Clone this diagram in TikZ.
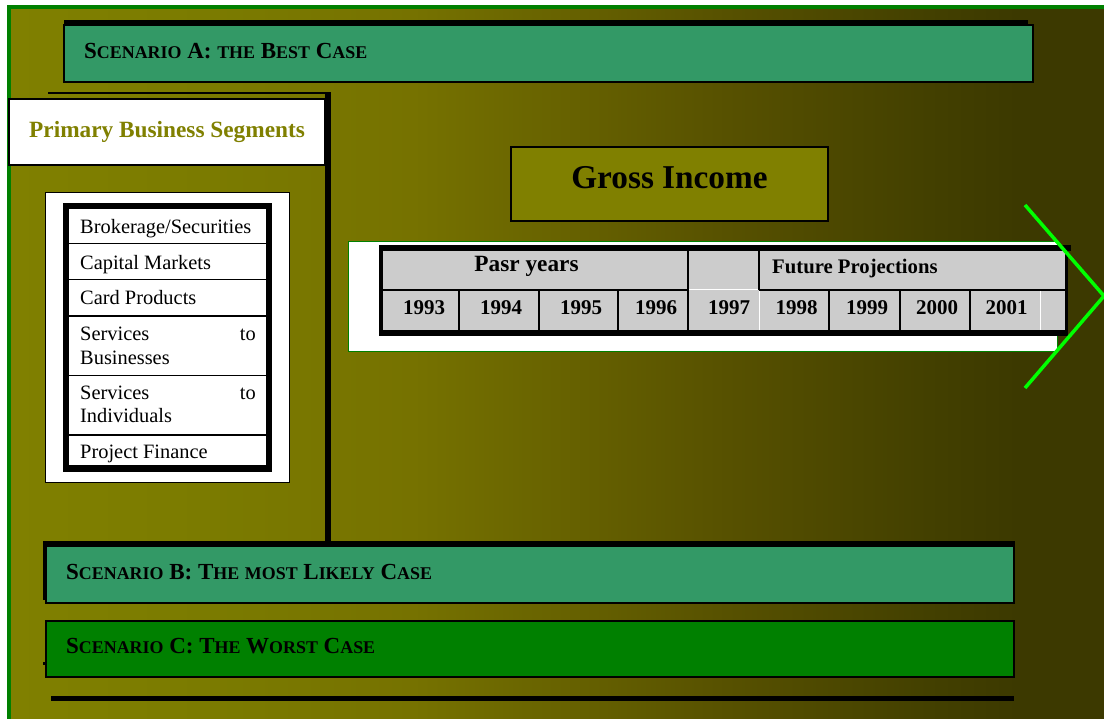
\documentclass[tikz,border=0pt]{standalone}
\usepackage{fontspec}
\setmainfont{Liberation Serif}

% slide colours
\definecolor{bgOlive}{HTML}{808000}
\definecolor{bgMid}{HTML}{767200}
\definecolor{bgDeep}{HTML}{575100}
\definecolor{bgDark}{HTML}{434000}
\definecolor{bgEnd}{HTML}{3C3900}
\definecolor{frameGreen}{HTML}{008000}
\definecolor{scenTeal}{HTML}{339966}
\definecolor{scenGreen}{HTML}{008000}
\definecolor{cellGrey}{HTML}{CCCCCC}
\definecolor{arrowLime}{HTML}{00FF00}

\pgfdeclarehorizontalshading{slidebg}{100bp}{%
  color(0bp)=(bgOlive); color(25bp)=(bgOlive); color(34bp)=(bgOlive!96!black);
  color(43bp)=(bgMid); color(57bp)=(bgDeep); color(66bp)=(bgDark);
  color(70bp)=(bgEnd); color(100bp)=(bgEnd)}

% fake small caps for the scenario titles
\newcommand\smcap[1]{{\fontsize{17.9}{20}\selectfont #1}}

\begin{document}
\begin{tikzpicture}[x=1pt,y=-1pt,
  panel/.style={draw=black, line width=1.5pt},
  solidbar/.style={fill=black, draw=none},
  scentext/.style={inner sep=0pt, anchor=west, font=\fontsize{23}{28}\selectfont\bfseries},
  segtext/.style={inner sep=0pt, anchor=base west, font=\fontsize{20.4}{24}\selectfont},
  yeartext/.style={inner sep=0pt, anchor=base, font=\fontsize{21}{24}\selectfont\bfseries},
  rule/.style={line width=1.7pt},
]
\useasboundingbox (0,0) rectangle (1104,719);
\begin{scope}
\clip (0,0) rectangle (1104,719);

% slide background with its green frame
\fill[white] (0,0) rectangle (1104,719);
\path[shading=slidebg, draw=frameGreen, line width=4pt] (9,7) rectangle (1130,745);

% Scenario A banner
\path[solidbar] (64,20) rectangle (1028,26);
\path[panel, fill=scenTeal] (64,25) rectangle (1033,82);
\node[scentext] (scA) at (84,51) {S\smcap{CENARIO} A: \smcap{THE} B\smcap{EST} C\smcap{ASE}};

% Primary business segments heading with its shadow bar
\path[solidbar] (48,92) rectangle (330,94);
\path[solidbar] (325,92) rectangle (331,542);
\path[panel, fill=white] (9,99) rectangle (325,165);
\node[inner sep=0pt, anchor=base west, text=bgOlive,
      font=\fontsize{23.3}{28}\selectfont\bfseries] (pbs) at (29,138) {Primary Business Segments};

% segment list
\path[draw=black, line width=1pt, fill=white] (45,193) rectangle (289,482);
\path[solidbar] (63,203) rectangle (272,472);
\path[fill=white] (69,209) rectangle (266,465);
\foreach \yy in {243.5,279.5,316,375.5,435}
  \draw[rule] (69,\yy) -- (266,\yy);
\node[segtext] (s1) at (80,234) {Brokerage/Securities};
\node[segtext] (s2) at (80,270) {Capital Markets};
\node[segtext] (s3) at (80,305) {Card Products};
\node[segtext] (s4a) at (80,341) {Services};
\node[segtext, anchor=base east] (s4b) at (256,341) {to};
\node[segtext] (s4c) at (80,365) {Businesses};
\node[segtext] (s5a) at (80,400) {Services};
\node[segtext, anchor=base east] (s5b) at (256,400) {to};
\node[segtext] (s5c) at (80,423) {Individuals};
\node[segtext] (s6) at (80,459) {Project Finance};

% Gross income title
\path[panel, fill=bgOlive] (511,147) rectangle (828,221);
\node[inner sep=0pt, font=\fontsize{33.3}{38}\selectfont\bfseries] (gross) at (669.5,178) {Gross Income};

% year table on its white strip
\path[draw=frameGreen, line width=1pt, fill=white] (348,242) rectangle (1057,352);
\path[fill=cellGrey] (383,251) rectangle (1065,330);
\path[solidbar] (379,245) rectangle (1071,251);
\path[solidbar] (379,245) rectangle (383,336);
\path[solidbar] (379,330) rectangle (1068,336);
\path[solidbar] (1065,251) rectangle (1068,336);
\draw[rule] (383,290) -- (688,290);
\draw[rule] (759,290) -- (1068,290);
\draw[rule, white, line width=1pt] (689,290) -- (759,290);
\draw[rule] (688,251) -- (688,330);
\draw[rule] (759,251) -- (759,290);
\draw[white, line width=1pt] (759,291) -- (759,330);
\foreach \xx in {459,539,618,829,900,970}
  \draw[rule] (\xx,290) -- (\xx,330);
\draw[white, line width=1pt] (1040,291) -- (1040,330);
\node[inner sep=0pt, anchor=base, font=\fontsize{23.3}{28}\selectfont\bfseries] (past) at (526.5,271.5) {Pasr years};
\node[inner sep=0pt, anchor=base west, font=\fontsize{20.7}{24}\selectfont\bfseries] (future) at (772,274) {Future Projections};
\node[yeartext] (y93) at (424,315) {1993};
\node[yeartext] (y94) at (501,315) {1994};
\node[yeartext] (y95) at (581,315) {1995};
\node[yeartext] (y96) at (656,315) {1996};
\node[yeartext] (y97) at (729,315) {1997};
\node[yeartext] (y98) at (796.5,315) {1998};
\node[yeartext] (y99) at (867,315) {1999};
\node[yeartext] (y00) at (937,315) {2000};
\node[yeartext] (y01) at (1006.5,315) {2001};

% green chevron pointing ahead
\coordinate (chevTop) at (1025,205);
\coordinate (chevTip) at (1104,296);
\coordinate (chevBot) at (1025,388);
\draw[arrowLime, line width=3.5pt] (chevTop) -- (chevTip) -- (chevBot);

% Scenario B banner
\path[solidbar] (43,541) rectangle (1015,600);
\path[panel, fill=scenTeal] (46,546) rectangle (1014,603);
\node[scentext] (scB) at (66,572) {S\smcap{CENARIO} B: T\smcap{HE} \smcap{MOST} L\smcap{IKELY} C\smcap{ASE}};

% Scenario C banner
\path[solidbar] (43,662) rectangle (46,665);
\path[panel, fill=scenGreen] (46,621) rectangle (1014,677);
\node[scentext] (scC) at (66,646) {S\smcap{CENARIO} C: T\smcap{HE} W\smcap{ORST} C\smcap{ASE}};

% closing rule
\path[solidbar] (51,696) rectangle (1014,701);
\end{scope}
\end{tikzpicture}
\end{document}
